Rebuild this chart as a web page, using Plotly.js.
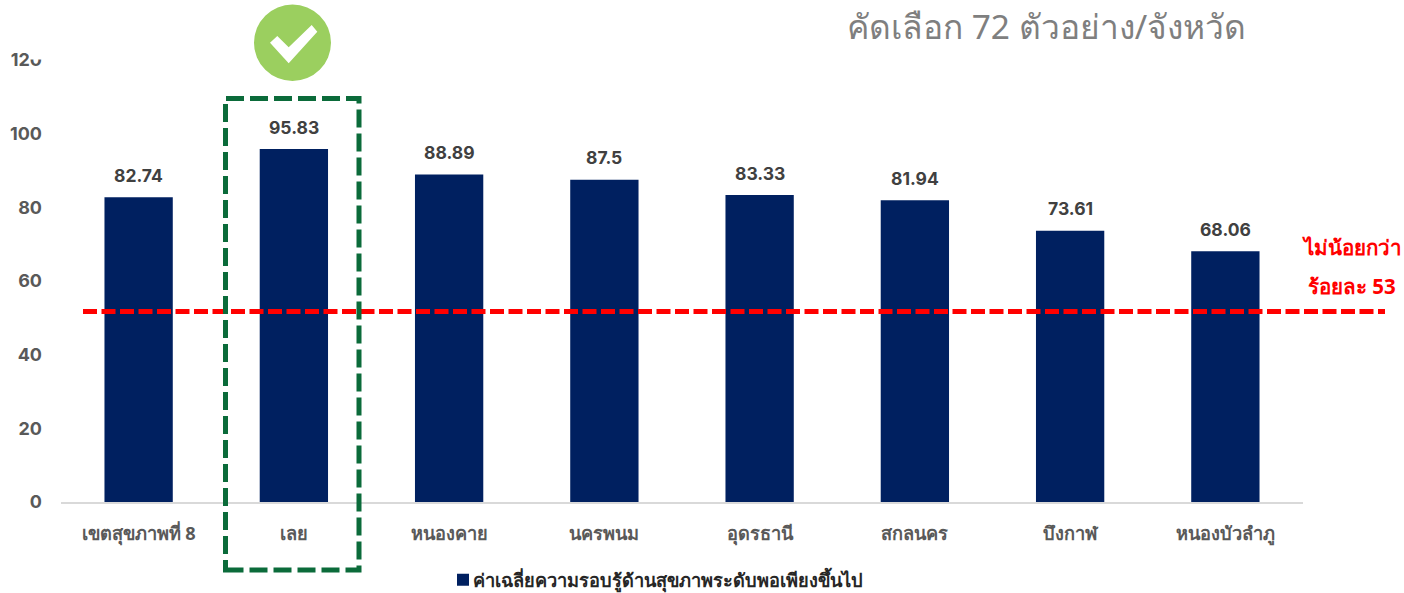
<!DOCTYPE html>
<html><head><meta charset="utf-8">
<script src="https://cdn.plot.ly/plotly-3.0.0.min.js"></script>
<style>html,body{margin:0;padding:0;background:#fff}</style></head>
<body><div id="chart" style="width:1404px;height:593px"></div>
<script>
const categories = ["เขตสุขภาพที่ 8","เลย","หนองคาย","นครพนม","อุดรธานี","สกลนคร","บึงกาฬ","หนองบัวลำภู"];
const values = [82.74,95.83,88.89,87.5,83.33,81.94,73.61,68.06];
const seriesName = "ค่าเฉลี่ยความรอบรู้ด้านสุขภาพระดับพอเพียงขึ้นไป";
const thresholdValue = 51.7;
const yTicks = [0,20,40,60,80,100,120];
const FONT = 'Inter, "Noto Sans", "Liberation Sans", sans-serif';
const THAI = '"Noto Sans", "Liberation Sans", sans-serif';

const W=1404,H=593,L=61,R=1303,T=60,B=502;
const px=x=>(x-L)/(R-L), py=y=>(B-y)/(B-T);
const poly=(pts)=>'M '+pts.map(p=>px(p[0]).toFixed(5)+','+py(p[1]).toFixed(5)).join(' L ')+' Z';
const check=[[270,42.7],[277.3,36],[288.7,47.3],[311.7,25],[317.3,31.7],[288.7,63.3]];

const shapes=[
 {type:'rect',xref:'paper',yref:'paper',x0:px(29),x1:px(44),y0:py(50),y1:py(59.5),fillcolor:'#fff',line:{width:0},layer:'above'},
 {type:'line',xref:'paper',yref:'y',x0:px(83),x1:px(1385),y0:thresholdValue,y1:thresholdValue,line:{color:'#FF0000',width:5,dash:'14px,4.5px'},layer:'above'},
 {type:'rect',xref:'paper',yref:'paper',x0:px(225.5),x1:px(359),y0:py(570),y1:py(98.5),line:{color:'#0B6B3A',width:5,dash:'18px,6px'},layer:'above'},
 {type:'circle',xref:'paper',yref:'paper',x0:px(254),x1:px(331),y0:py(81),y1:py(4.5),fillcolor:'#9BCF5F',line:{width:0},layer:'above'},
 {type:'path',xref:'paper',yref:'paper',path:poly(check),fillcolor:'#fff',line:{width:0},layer:'above'}
];
const ann=(text,x,y,size,color,bold)=>({xref:'paper',yref:'paper',x:px(x),y:py(y),xanchor:'center',yanchor:'middle',showarrow:false,text:bold?'<b>'+text+'</b>':text,font:{family:THAI,size,color}});
const annotations=[
 ann('คัดเลือก 72 ตัวอย่าง/จังหวัด',1046,26,33.5,'#7F7F7F',false),
 ann('ไม่น้อยกว่า',1352,247,20.5,'#FF0000',true),
 ann('ร้อยละ 53',1352,286,20.5,'#FF0000',true)
].concat(categories.map((c,i)=>({xref:'x',yref:'y',x:c,y:values[i],yshift:22,xanchor:'center',yanchor:'middle',showarrow:false,
  text:String(values[i]),font:{family:FONT,size:17.5,color:'#404040',weight:700}})));
Plotly.newPlot('chart',[{
 type:'bar',x:categories,y:values,name:seriesName,showlegend:true,width:0.44,
 marker:{color:'#002060'}
}],{
 width:W,height:H,paper_bgcolor:'#fff',plot_bgcolor:'#fff',
 margin:{l:L,r:W-R,t:T,b:H-B,pad:0},bargap:0.56,
 font:{family:FONT},
 xaxis:{type:'category',tickvals:categories,showgrid:false,ticks:'',showline:true,linecolor:'#D9D9D9',linewidth:2,ticklabelstandoff:14,tickangle:0,
  tickfont:{family:THAI,size:18.2,color:'#595959',weight:700}},
 yaxis:{range:[0,120],tickvals:yTicks,showgrid:false,zeroline:false,ticks:'',showline:false,ticklabelstandoff:18,
  tickfont:{family:FONT,size:18,color:'#595959',weight:700}},
 showlegend:true,
 legend:{orientation:'h',xref:'container',yref:'container',xanchor:'left',yanchor:'middle',x:433/W,y:(H-580)/H,bgcolor:'rgba(0,0,0,0)',
  font:{family:THAI,size:18.2,color:'#262626',weight:700}},
 shapes,annotations
},{displayModeBar:false,staticPlot:true}).then(()=>{
 document.querySelectorAll('.legend .legendsymbols').forEach(g=>g.setAttribute('transform','translate(10,0)'));
});
</script></body></html>
